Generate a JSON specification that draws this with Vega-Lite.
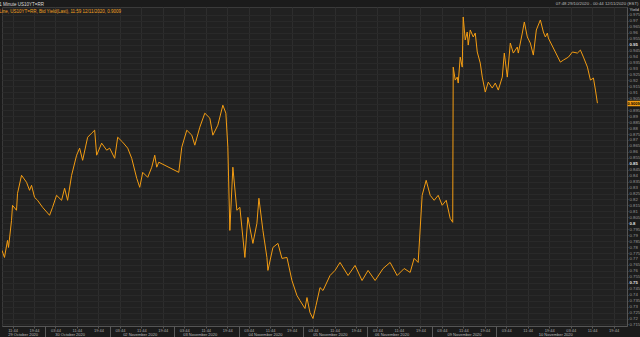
{
  "$schema": "https://vega.github.io/schema/vega-lite/v6.json",
  "width": 625,
  "height": 319,
  "autosize": "none",
  "padding": {"left": 2, "top": 7, "right": 13, "bottom": 11},
  "background": "#1b1b1b",
  "config": {
    "view": {"fill": "#212121", "stroke": "#3a3a3a"},
    "font": "Liberation Sans"
  },
  "title": {
    "text": "1 Minute US10YT=RR",
    "subtitle": "Line, US10YT=RR, Bid Yield(Last), 11:59 12/11/2020, 0.9009",
    "anchor": "start",
    "offset": -12,
    "fontSize": 4.5,
    "fontWeight": "normal",
    "color": "#dddddd",
    "subtitleFontSize": 4.5,
    "subtitleColor": "#f0a020",
    "subtitlePadding": 2,
    "font": "Liberation Sans",
    "subtitleFont": "Liberation Sans"
  },
  "datasets": {
    "yield": [
      {"hour": 7.8, "yield": 0.7772}, {"hour": 8.73, "yield": 0.7713}, {"hour": 9.85, "yield": 0.7856}, {"hour": 10.23, "yield": 0.7797},
      {"hour": 11.35, "yield": 0.8024}, {"hour": 11.72, "yield": 0.8151}, {"hour": 13.21, "yield": 0.8109}, {"hour": 13.59, "yield": 0.8252},
      {"hour": 15.08, "yield": 0.8403}, {"hour": 16.95, "yield": 0.8344}, {"hour": 18.07, "yield": 0.8277}, {"hour": 18.81, "yield": 0.8319},
      {"hour": 19.93, "yield": 0.8218}, {"hour": 21.05, "yield": 0.8193}, {"hour": 22.92, "yield": 0.8134}, {"hour": 25.53, "yield": 0.8067},
      {"hour": 26.65, "yield": 0.8134}, {"hour": 28.14, "yield": 0.8235}, {"hour": 30.01, "yield": 0.8193}, {"hour": 31.13, "yield": 0.8294},
      {"hour": 32.25, "yield": 0.8193}, {"hour": 33.74, "yield": 0.8403}, {"hour": 35.61, "yield": 0.8572}, {"hour": 36.73, "yield": 0.8631},
      {"hour": 37.85, "yield": 0.8529}, {"hour": 39.72, "yield": 0.8723}, {"hour": 41.21, "yield": 0.8757}, {"hour": 42.33, "yield": 0.8782},
      {"hour": 43.08, "yield": 0.8572}, {"hour": 44.94, "yield": 0.8673}, {"hour": 46.81, "yield": 0.8614}, {"hour": 47.93, "yield": 0.8631},
      {"hour": 49.8, "yield": 0.8546}, {"hour": 50.92, "yield": 0.8723}, {"hour": 52.78, "yield": 0.8681}, {"hour": 54.65, "yield": 0.8631},
      {"hour": 56.14, "yield": 0.8546}, {"hour": 58.01, "yield": 0.8378}, {"hour": 59.13, "yield": 0.8302}, {"hour": 60.25, "yield": 0.8428},
      {"hour": 62.11, "yield": 0.8386}, {"hour": 63.61, "yield": 0.8471}, {"hour": 64.73, "yield": 0.8572}, {"hour": 65.47, "yield": 0.8471},
      {"hour": 66.22, "yield": 0.8513}, {"hour": 73.68, "yield": 0.8428}, {"hour": 74.8, "yield": 0.8639}, {"hour": 76.67, "yield": 0.8782},
      {"hour": 78.54, "yield": 0.874}, {"hour": 79.66, "yield": 0.8656}, {"hour": 81.52, "yield": 0.8807}, {"hour": 83.39, "yield": 0.8925},
      {"hour": 85.26, "yield": 0.8883}, {"hour": 86.38, "yield": 0.874}, {"hour": 88.24, "yield": 0.8824}, {"hour": 90.11, "yield": 0.8992},
      {"hour": 91.23, "yield": 0.8925}, {"hour": 91.97, "yield": 0.8639}, {"hour": 92.72, "yield": 0.794}, {"hour": 93.84, "yield": 0.8471},
      {"hour": 95.33, "yield": 0.8109}, {"hour": 96.45, "yield": 0.8134}, {"hour": 98.32, "yield": 0.7713}, {"hour": 99.44, "yield": 0.805},
      {"hour": 101.31, "yield": 0.7831}, {"hour": 102.8, "yield": 0.7999}, {"hour": 103.55, "yield": 0.821}, {"hour": 105.04, "yield": 0.794},
      {"hour": 106.53, "yield": 0.7713}, {"hour": 106.91, "yield": 0.7604}, {"hour": 108.77, "yield": 0.7797}, {"hour": 110.64, "yield": 0.7831},
      {"hour": 112.13, "yield": 0.7705}, {"hour": 114.0, "yield": 0.7713}, {"hour": 115.86, "yield": 0.7519}, {"hour": 117.73, "yield": 0.7393},
      {"hour": 118.85, "yield": 0.7351}, {"hour": 120.72, "yield": 0.7284}, {"hour": 121.46, "yield": 0.7376}, {"hour": 122.58, "yield": 0.725},
      {"hour": 123.7, "yield": 0.72}, {"hour": 124.82, "yield": 0.7309}, {"hour": 126.32, "yield": 0.746}, {"hour": 127.44, "yield": 0.7435},
      {"hour": 130.05, "yield": 0.7561}, {"hour": 131.92, "yield": 0.7604}, {"hour": 133.78, "yield": 0.7671}, {"hour": 136.77, "yield": 0.7561},
      {"hour": 139.38, "yield": 0.7646}, {"hour": 141.99, "yield": 0.7519}, {"hour": 144.23, "yield": 0.7604}, {"hour": 146.85, "yield": 0.7519},
      {"hour": 149.83, "yield": 0.762}, {"hour": 152.44, "yield": 0.7671}, {"hour": 155.06, "yield": 0.7561}, {"hour": 157.67, "yield": 0.762},
      {"hour": 159.91, "yield": 0.7587}, {"hour": 161.4, "yield": 0.7705}, {"hour": 162.9, "yield": 0.7671}, {"hour": 164.39, "yield": 0.8235},
      {"hour": 165.88, "yield": 0.8361}, {"hour": 167.38, "yield": 0.8235}, {"hour": 168.87, "yield": 0.8193}, {"hour": 170.36, "yield": 0.8235},
      {"hour": 171.86, "yield": 0.8151}, {"hour": 173.35, "yield": 0.8193}, {"hour": 174.84, "yield": 0.8041}, {"hour": 175.78, "yield": 0.8008},
      {"hour": 175.96, "yield": 0.9312}, {"hour": 176.71, "yield": 0.9203}, {"hour": 177.45, "yield": 0.9228}, {"hour": 177.83, "yield": 0.9178},
      {"hour": 178.57, "yield": 0.9396}, {"hour": 179.32, "yield": 0.9312}, {"hour": 179.69, "yield": 0.9733}, {"hour": 180.44, "yield": 0.954},
      {"hour": 181.19, "yield": 0.9607}, {"hour": 181.56, "yield": 0.9497}, {"hour": 182.31, "yield": 0.9624}, {"hour": 183.43, "yield": 0.9565},
      {"hour": 184.17, "yield": 0.9598}, {"hour": 184.92, "yield": 0.9439}, {"hour": 186.04, "yield": 0.9346}, {"hour": 186.79, "yield": 0.9228},
      {"hour": 187.91, "yield": 0.9102}, {"hour": 189.03, "yield": 0.9186}, {"hour": 190.52, "yield": 0.9136}, {"hour": 191.64, "yield": 0.9178},
      {"hour": 192.76, "yield": 0.9119}, {"hour": 194.25, "yield": 0.9228}, {"hour": 195.0, "yield": 0.943}, {"hour": 196.12, "yield": 0.9228},
      {"hour": 197.24, "yield": 0.9514}, {"hour": 198.36, "yield": 0.943}, {"hour": 199.85, "yield": 0.9481}, {"hour": 200.22, "yield": 0.943},
      {"hour": 201.72, "yield": 0.9598}, {"hour": 202.46, "yield": 0.9691}, {"hour": 203.58, "yield": 0.9565}, {"hour": 204.7, "yield": 0.9514},
      {"hour": 205.82, "yield": 0.9413}, {"hour": 206.94, "yield": 0.9624}, {"hour": 208.44, "yield": 0.9708}, {"hour": 209.56, "yield": 0.9607},
      {"hour": 210.3, "yield": 0.9565}, {"hour": 211.05, "yield": 0.9598}, {"hour": 211.42, "yield": 0.9556}, {"hour": 215.9, "yield": 0.9354},
      {"hour": 217.02, "yield": 0.9371}, {"hour": 218.89, "yield": 0.9396}, {"hour": 220.38, "yield": 0.9439}, {"hour": 222.25, "yield": 0.943},
      {"hour": 223.37, "yield": 0.9455}, {"hour": 224.49, "yield": 0.9396}, {"hour": 225.98, "yield": 0.9312}, {"hour": 227.1, "yield": 0.9203},
      {"hour": 228.22, "yield": 0.922}, {"hour": 228.97, "yield": 0.9119}, {"hour": 229.71, "yield": 0.9009}
    ]
  },
  "resolve": {"axis": {"x": "independent", "y": "independent"}},
  "layer": [
    {
      "data": {"name": "yield"},
      "mark": {"type": "line", "color": "#f39c12", "strokeWidth": 1, "clip": true},
      "encoding": {
        "x": {
          "field": "hour", "type": "quantitative",
          "scale": {"domain": [7.8, 240.73], "nice": false, "zero": false},
          "axis": {
            "orient": "bottom", "title": null,
            "values": [11.7333, 19.7333, 27.7333, 35.7333, 43.7333, 51.7333, 59.7333, 67.7333, 75.7333, 83.7333, 91.7333, 99.7333, 107.7333, 115.7333, 123.7333, 131.7333, 139.7333, 147.7333, 155.7333, 163.7333, 171.7333, 179.7333, 187.7333, 195.7333, 203.7333, 211.7333, 219.7333, 227.7333, 235.7333],
            "labelExpr": "utcFormat(datum.value*3600000 + 30000, '%H:%M')",
            "grid": true, "gridColor": "#2d2d2d", "gridWidth": 1,
            "tickSize": 2, "tickColor": "#555555",
            "domainColor": "#555555",
            "labelFontSize": 4, "labelColor": "#aaaaaa", "labelPadding": 0,
            "labelOverlap": false, "labelFlush": false
          }
        },
        "y": {
          "field": "yield", "type": "quantitative",
          "scale": {"domain": [0.7137, 0.9817], "nice": false, "zero": false},
          "axis": {
            "orient": "right",
            "values": [0.715, 0.72, 0.725, 0.73, 0.735, 0.74, 0.745, 0.75, 0.755, 0.76, 0.765, 0.77, 0.775, 0.78, 0.785, 0.79, 0.795, 0.8, 0.805, 0.81, 0.815, 0.82, 0.825, 0.83, 0.835, 0.84, 0.845, 0.85, 0.855, 0.86, 0.865, 0.87, 0.875, 0.88, 0.885, 0.89, 0.895, 0.9, 0.905, 0.91, 0.915, 0.92, 0.925, 0.93, 0.935, 0.94, 0.945, 0.95, 0.955, 0.96, 0.965, 0.97, 0.975],
            "labelExpr": "abs(datum.value - 0.9) < 0.0001 ? '' : format(datum.value, '.3~f')",
            "grid": true, "gridColor": "#292929", "gridWidth": 1,
            "tickSize": 1, "tickColor": "#555555",
            "domainColor": "#555555",
            "labelFontSize": 4.3, "labelPadding": 1,
            "labelColor": {"condition": {"test": "abs(datum.value*20 - round(datum.value*20)) < 0.001", "value": "#e0e0e0"}, "value": "#999999"},
            "labelFontWeight": {"condition": {"test": "abs(datum.value*20 - round(datum.value*20)) < 0.001", "value": "bold"}, "value": "normal"},
            "labelOverlap": false, "labelBound": false, "labelFlush": false,
            "title": "Yield", "titleAngle": 0, "titleAlign": "left", "titleBaseline": "middle",
            "titleX": 2, "titleY": 2, "titleFontSize": 4.3, "titleFontWeight": "normal", "titleColor": "#cccccc"
          }
        }
      }
    },
    {
      "data": {"name": "yield"},
      "mark": {"type": "point", "opacity": 0},
      "encoding": {
        "x": {
          "field": "hour", "type": "quantitative",
          "scale": {"domain": [7.8, 240.73], "nice": false, "zero": false},
          "axis": {
            "orient": "bottom", "title": null,
            "values": [15.5, 33, 59.1, 81.5, 105.8, 130, 153, 180, 214],
            "labelExpr": "['29 October 2020','30 October 2020','02 November 2020','03 November 2020','04 November 2020','05 November 2020','06 November 2020','09 November 2020','10 November 2020','11 November 2020'][floor(datum.value/24)]",
            "ticks": false, "domain": false, "grid": false,
            "labelPadding": 6.5, "labelFontSize": 4, "labelColor": "#bbbbbb",
            "labelOverlap": false, "labelFlush": false
          }
        },
        "y": {
          "field": "yield", "type": "quantitative",
          "scale": {"domain": [0.7137, 0.9817], "nice": false, "zero": false},
          "axis": {
            "orient": "right", "title": null,
            "values": [0.9009], "format": ".4f",
            "grid": false, "domain": false,
            "tickSize": 13, "tickWidth": 5.5, "tickColor": "#f39c12", "tickCap": "butt",
            "labelPadding": -13, "labelAlign": "left", "labelColor": "#000000",
            "labelFontSize": 4, "labelFontWeight": "bold"
          }
        }
      }
    },
    {
      "data": {"name": "yield"},
      "mark": {"type": "point", "opacity": 0},
      "encoding": {
        "x": {
          "field": "hour", "type": "quantitative",
          "scale": {"domain": [7.8, 240.73], "nice": false, "zero": false},
          "axis": {
            "orient": "bottom", "title": null,
            "values": [24, 48, 72, 96, 120, 144, 168, 192],
            "labels": false, "domain": false, "grid": false,
            "tickSize": 11, "tickColor": "#5a5a5a", "tickWidth": 1
          }
        },
        "y": {"field": "yield", "type": "quantitative", "axis": null}
      }
    },
    {
      "data": {"name": "yield"},
      "mark": {"type": "point", "opacity": 0},
      "encoding": {
        "x": {
          "field": "hour", "type": "quantitative",
          "scale": {"domain": [7.8, 240.73], "nice": false, "zero": false},
          "axis": {
            "orient": "top",
            "labels": false, "ticks": false, "domain": false, "grid": false,
            "title": "07:48 29/10/2020 - 00:44 12/11/2020 (EST)",
            "titleFontSize": 4.3, "titleFontWeight": "normal", "titleColor": "#bbbbbb",
            "titleAnchor": "end", "titleAlign": "right", "titleBaseline": "bottom",
            "titleX": 636, "titleY": -2
          }
        },
        "y": {"field": "yield", "type": "quantitative", "axis": null}
      }
    }
  ]
}
